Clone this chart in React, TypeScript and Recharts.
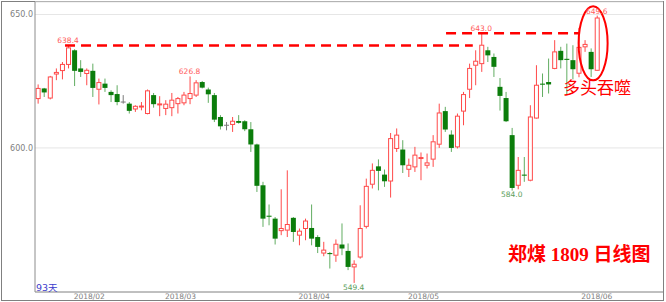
import { Bar, CartesianGrid, ComposedChart, ReferenceDot, ReferenceLine, XAxis, YAxis } from "recharts"

// 郑煤1809 日K线（开、高、低、收）
const opens = [
  618.5, 622.3, 618.7, 627.7, 629.0, 631.3, 636.6, 629.8, 627.9, 628.9,
  622.0, 624.1, 621.0, 620.2, 617.2, 616.6, 614.6, 615.4, 612.9, 619.8,
  616.2, 614.8, 615.1, 616.6, 616.9, 618.5, 619.8, 624.7, 621.9, 619.8,
  611.6, 608.5, 608.8, 610.1, 610.0, 607.0, 601.3, 586.0, 574.6, 573.5,
  569.0, 569.2, 573.8, 567.3, 569.8, 570.0, 566.6, 560.6, 560.6, 559.8,
  563.8, 561.4, 555.4, 559.1, 570.6, 586.4, 593.1, 590.0, 587.6, 599.8,
  599.4, 592.0, 592.9, 596.1, 593.5, 595.8, 601.4, 613.8, 605.0, 600.4,
  613.8, 622.0, 631.0, 631.6, 636.6, 634.1, 622.9, 618.7, 604.8, 586.0,
  590.0, 587.9, 611.2, 624.1, 624.7, 629.8, 636.4, 633.4, 632.9, 628.0,
  637.9, 636.0, 629.1,
]
const highs = [
  623.8, 622.5, 627.0, 629.8, 632.2, 638.4, 637.0, 632.9, 629.8, 631.6,
  626.0, 626.0, 621.6, 623.5, 619.8, 617.2, 616.0, 617.2, 621.9, 620.6,
  619.4, 617.9, 620.6, 619.1, 621.0, 626.8, 625.4, 625.1, 622.6, 620.6,
  612.3, 609.7, 611.6, 612.3, 610.4, 609.7, 601.6, 587.3, 578.8, 574.1,
  584.5, 591.6, 574.1, 569.8, 573.5, 578.8, 567.3, 564.8, 561.0, 565.7,
  571.7, 564.2, 557.9, 578.5, 588.5, 594.2, 595.7, 591.9, 605.6, 607.3,
  602.9, 596.0, 600.4, 598.3, 597.9, 604.8, 616.6, 615.4, 606.6, 612.9,
  621.0, 631.6, 636.6, 643.0, 637.9, 635.4, 626.2, 621.0, 607.5, 596.6,
  596.6, 616.0, 631.0, 627.9, 633.5, 640.4, 637.9, 639.1, 638.5, 645.0,
  640.4, 637.3, 649.6,
]
const lows = [
  616.6, 619.1, 618.2, 625.4, 625.7, 629.8, 623.2, 626.6, 623.5, 619.1,
  616.3, 621.0, 617.2, 616.0, 616.6, 612.9, 613.5, 614.1, 612.6, 615.1,
  611.9, 612.3, 611.9, 612.9, 616.0, 616.4, 619.1, 622.3, 616.9, 609.7,
  606.9, 606.6, 606.0, 609.1, 606.3, 598.5, 583.5, 570.4, 571.0, 563.8,
  567.3, 566.6, 564.8, 563.5, 565.4, 563.5, 560.6, 559.4, 554.8, 557.3,
  559.8, 554.2, 549.4, 558.5, 569.8, 584.8, 584.1, 585.4, 581.4, 598.5,
  590.6, 589.1, 591.0, 587.9, 592.3, 592.9, 600.0, 606.0, 598.5, 599.8,
  608.5, 618.7, 623.5, 628.5, 632.2, 626.6, 614.0, 609.7, 584.0, 584.5,
  587.3, 587.5, 611.0, 619.1, 620.4, 629.5, 629.8, 619.8, 625.7, 626.5,
  636.0, 626.6, 628.9,
]
const closes = [
  622.3, 620.8, 626.6, 628.3, 631.3, 637.5, 628.9, 628.5, 629.1, 622.5,
  624.5, 622.5, 619.8, 617.2, 617.2, 613.9, 615.6, 615.7, 621.4, 616.4,
  616.5, 616.4, 617.9, 618.5, 619.8, 620.4, 624.4, 622.6, 620.1, 610.6,
  608.1, 608.5, 610.0, 609.4, 607.0, 601.3, 585.8, 573.5, 574.2, 566.0,
  569.8, 571.3, 568.5, 568.8, 572.6, 566.0, 562.9, 561.7, 560.2, 563.9,
  562.3, 555.4, 556.4, 569.8, 585.6, 591.6, 591.4, 587.5, 603.5, 604.8,
  593.5, 593.5, 597.3, 596.4, 594.4, 602.3, 613.1, 606.9, 600.0, 611.9,
  620.0, 629.8, 632.5, 638.5, 634.7, 630.4, 619.5, 610.0, 585.0, 591.6,
  589.6, 611.6, 623.5, 623.7, 623.8, 636.0, 632.9, 633.0, 629.5, 637.7,
  638.8, 629.5, 648.7,
]

const monthTicks = [8.5, 23.5, 45.5, 63.5, 92]
const monthLabels = ["2018/02", "2018/03", "2018/04", "2018/05", "2018/06"]
const priceTicks = [600, 650]
const highMarks = [5, 25, 73, 92]
const lowMarks = [52, 78]

const data = opens.map((o, i) => ({ i, o, h: highs[i], l: lows[i], c: closes[i] }))

const RED = "#ff4a4a"
const GREEN = "#0b7d0b"
const GREEN_WICK = "#62ad62"
const GRAY = "#7a7a7a"
const small = "DejaVu Sans, Verdana, sans-serif"

function Candle(props: any) {
  const { x, y, width, height, payload } = props
  if (x == null || y == null) return null
  const top = Math.min(y, y + height)
  const bot = Math.max(y, y + height)
  const { o, h, l, c } = payload
  const py = (v: number) => (h === l ? top : top + ((h - v) / (h - l)) * (bot - top))
  const cx = x + width / 2
  const bTop = py(Math.max(o, c))
  const bBot = py(Math.min(o, c))
  const bh = Math.max(bBot - bTop, 1)

  if (o === c) {
    return (
      <g stroke={GRAY} strokeWidth={1}>
        <line x1={cx} x2={cx} y1={top} y2={bot} />
        <line x1={x} x2={x + width} y1={bTop} y2={bTop} />
      </g>
    )
  }
  if (c > o) {
    return (
      <g stroke={RED} strokeWidth={1}>
        <line x1={cx} x2={cx} y1={top} y2={bTop} />
        <line x1={cx} x2={cx} y1={bTop + bh} y2={bot} />
        <rect x={x + 0.5} y={bTop} width={width - 1} height={bh} fill="#fff" />
      </g>
    )
  }
  return (
    <g>
      <line x1={cx} x2={cx} y1={top} y2={bot} stroke={GREEN_WICK} strokeWidth={1} />
      <rect x={x} y={bTop} width={width} height={bh} fill={GREEN} />
    </g>
  )
}

export default function App() {
  return (
    <div style={{ position: "absolute", left: 0, top: 0, width: 666, height: 302, background: "#fff" }}>
      <div
        style={{
          position: "absolute",
          left: 1,
          top: 1,
          width: 663,
          height: 300,
          border: "1px solid #808080",
          boxSizing: "border-box",
        }}
      />
      <div style={{ position: "absolute", left: 0, top: 0 }}>
        <ComposedChart width={666} height={302} data={data} margin={{ top: 2, right: 3, bottom: 0, left: 0 }}>
          <CartesianGrid vertical={false} stroke="#e6e6e6" />
          <XAxis
            dataKey="i"
            type="number"
            domain={[-0.44, 102.9]}
            allowDataOverflow
            ticks={monthTicks}
            tickFormatter={(v: number) => monthLabels[monthTicks.indexOf(v)] ?? ""}
            height={10}
            tickSize={0}
            tickMargin={2}
            axisLine={{ stroke: "#8c8c8c" }}
            tick={{ fill: "#808080", fontSize: 7.5, fontFamily: small }}
          />
          <YAxis
            type="number"
            domain={[546, 654.7]}
            allowDataOverflow
            ticks={priceTicks}
            tickFormatter={(v: number) => v.toFixed(1)}
            width={35}
            tickSize={0}
            tickMargin={2}
            axisLine={{ stroke: "#8c8c8c" }}
            tick={{ fill: "#808080", fontSize: 8, fontFamily: small }}
          />
          <Bar
            dataKey={(d: any) => [d.l, d.h]}
            barSize={5}
            shape={Candle}
            isAnimationActive={false}
          />
          <ReferenceLine
            segment={[{ x: 4.5, y: highs[5] }, { x: 71.6, y: highs[5] }]}
            stroke="#ff0000"
            strokeWidth={2.5}
            strokeDasharray="10 6"
          />
          <ReferenceLine
            segment={[{ x: 67.2, y: highs[73] }, { x: 89.2, y: highs[73] }]}
            stroke="#ff0000"
            strokeWidth={2.5}
            strokeDasharray="10 6"
          />
          {highMarks.map((i) => (
            <ReferenceDot
              key={"h" + i}
              x={i}
              y={highs[i]}
              r={0}
              fill="none"
              stroke="none"
              label={{
                value: highs[i].toFixed(1),
                position: "top",
                offset: 2,
                fill: "#ff5a5a",
                fontSize: 7.5,
                fontFamily: small,
              }}
            />
          ))}
          {lowMarks.map((i) => (
            <ReferenceDot
              key={"l" + i}
              x={i}
              y={lows[i]}
              r={0}
              fill="none"
              stroke="none"
              label={{
                value: lows[i].toFixed(1),
                position: "bottom",
                offset: 1.5,
                fill: "#5a9e5a",
                fontSize: 7.5,
                fontFamily: small,
              }}
            />
          ))}
          <ReferenceDot
            x={91.4}
            y={639.2}
            r={1}
            shape={(p: any) => (
              <ellipse cx={p.cx} cy={p.cy} rx={14.5} ry={37} fill="none" stroke="#ff0000" strokeWidth={2} />
            )}
          />
        </ComposedChart>
      </div>
      <div
        style={{
          position: "absolute",
          left: 563,
          top: 77,
          fontSize: 17,
          lineHeight: "20px",
          color: "#ff0000",
          fontFamily: "Noto Sans CJK SC",
          whiteSpace: "nowrap",
        }}
      >
        多头吞噬
      </div>
      <div
        style={{
          position: "absolute",
          left: 508,
          top: 244,
          fontSize: 19,
          lineHeight: "22px",
          fontWeight: "bold",
          color: "#ff0000",
          fontFamily: '"Liberation Serif", "Noto Sans CJK SC"',
          whiteSpace: "nowrap",
        }}
      >
        郑煤 1809 日线图
      </div>
      <div
        style={{
          position: "absolute",
          left: 36,
          top: 282,
          fontSize: 9.5,
          lineHeight: "11px",
          color: "#3c3ccc",
          fontFamily: '"DejaVu Sans", "Noto Sans CJK SC"',
          whiteSpace: "nowrap",
        }}
      >
        93天
      </div>
    </div>
  )
}
